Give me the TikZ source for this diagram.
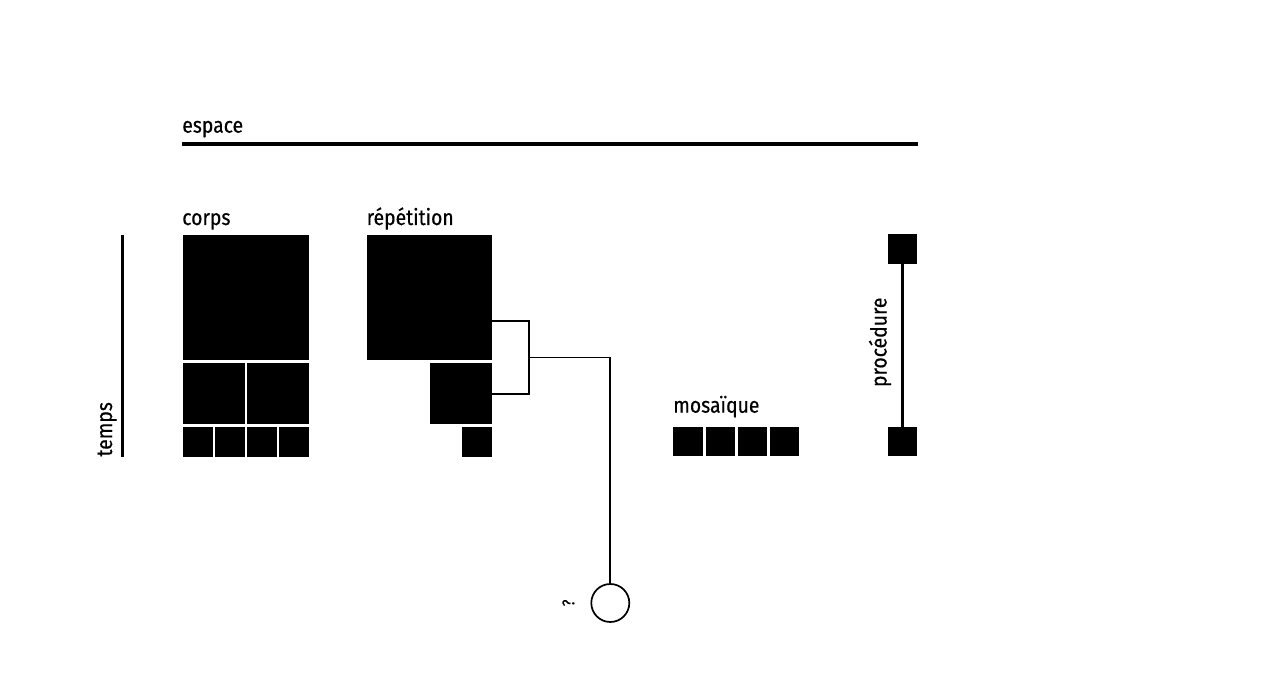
\documentclass[tikz,border=0pt]{standalone}
\usepackage{fontspec}
\setmainfont[FakeStretch=0.88,FakeBold=0.4]{Fira Sans}
\begin{document}
\begin{tikzpicture}[x=1pt,y=-1pt,
  blk/.style={draw=none,fill=black,inner sep=0pt,outer sep=0pt,rectangle},
  lbl/.style={inner sep=0pt,outer sep=0pt,font=\fontsize{22}{24}\selectfont},
  thick axis/.style={line width=3.3pt},
  thin link/.style={line width=1.7pt}]
\useasboundingbox[fill=white] (0,0) rectangle (1272,700);

% espace
\node[lbl,anchor=base west] (tespace) at (182.3,132.7) {espace};
\coordinate (e1) at (182.3,144);
\coordinate (e2) at (917.5,144);
\draw[thick axis] (e1) -- (e2);

% temps
\node[lbl,anchor=base west,rotate=90] (ttemps) at (112,456.5) {temps};
\coordinate (t1) at (122.3,235);
\coordinate (t2) at (122.3,456.5);
\draw[thick axis] (t1) -- (t2);

% corps
\node[lbl,anchor=base west] (tcorps) at (182.3,225) {corps};
\node[blk,minimum width=126.5pt,minimum height=125.5pt] (cB) at (245.75,297.75) {};
\node[blk,minimum width=62.3pt,minimum height=61.7pt] (cM1) at (213.65,393.65) {};
\node[blk,minimum width=62.3pt,minimum height=61.7pt] (cM2) at (277.9,393.65) {};
\node[blk,minimum width=30.1pt,minimum height=29.8pt] (cS1) at (197.55,441.6) {};
\node[blk,minimum width=30.1pt,minimum height=29.8pt] (cS2) at (229.65,441.6) {};
\node[blk,minimum width=30.1pt,minimum height=29.8pt] (cS3) at (261.75,441.6) {};
\node[blk,minimum width=30.1pt,minimum height=29.8pt] (cS4) at (293.85,441.6) {};

% repetition
\node[lbl,anchor=base west] (trep) at (366.7,225) {répétition};
\node[blk,minimum width=125.6pt,minimum height=125.5pt] (rB) at (429.5,297.75) {};
\node[blk,minimum width=62pt,minimum height=61.7pt] (rM) at (461.3,393.65) {};
\node[blk,minimum width=30pt,minimum height=29.8pt] (rS) at (477.3,441.6) {};

% bracket and question
\coordinate (b1) at (529.3,320.7);
\coordinate (b2) at (529.3,394.2);
\coordinate (bj) at (529.3,357.4);
\node[circle,draw,thin link,minimum size=38pt,inner sep=0pt] (q) at (610.3,603) {};
\node[inner sep=0pt,rotate=90,anchor=base,font=\fontsize{17}{19}\selectfont] (tq) at (574.3,603) {?};
\draw[thin link] (rB.east |- b1) -- (b1) -- (b2) -- (rM.east |- b2);
\draw[thin link] (bj) -| (q.north);

% mosaique
\node[lbl,anchor=base west] (tmos) at (673.3,412.7) {mosaïque};
\node[blk,minimum width=29.8pt,minimum height=29.6pt] (m1) at (688.2,441.5) {};
\node[blk,minimum width=29.8pt,minimum height=29.6pt] (m2) at (720.4,441.5) {};
\node[blk,minimum width=29.8pt,minimum height=29.6pt] (m3) at (752.5,441.5) {};
\node[blk,minimum width=29.8pt,minimum height=29.6pt] (m4) at (784.5,441.5) {};

% procedure
\node[blk,minimum width=29.6pt,minimum height=29.6pt] (p1) at (902.5,249.3) {};
\node[blk,minimum width=29.6pt,minimum height=29.6pt] (p2) at (902.5,441.5) {};
\draw[thick axis] (p1.south) -- (p2.north);
\node[lbl,anchor=base west,rotate=90] (tproc) at (886.5,387) {procédure};
\end{tikzpicture}
\end{document}
